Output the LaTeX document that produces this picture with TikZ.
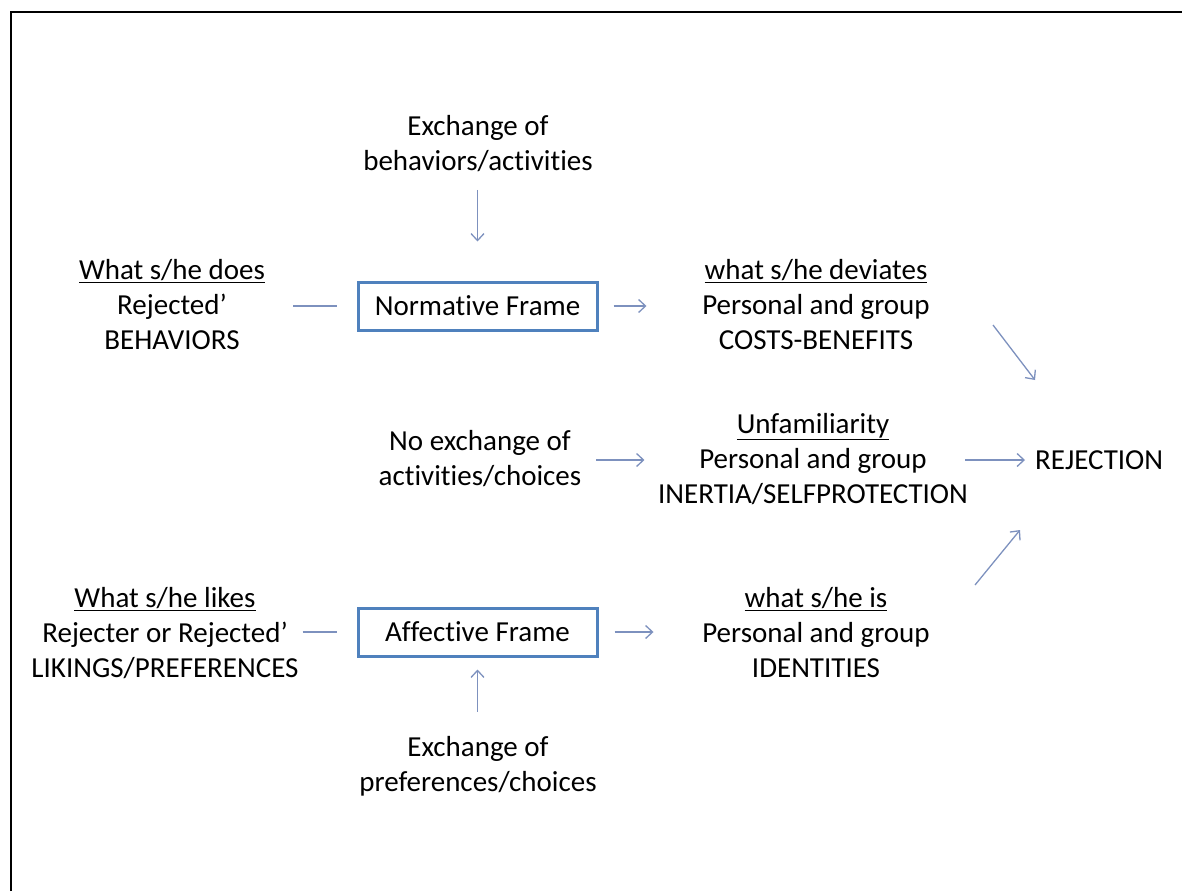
\documentclass[tikz,border=0pt]{standalone}
\usepackage{fontspec}
\setmainfont{Carlito}[Ligatures=NoCommon]
\usetikzlibrary{arrows.meta}
\definecolor{framblue}{RGB}{79,129,189}
\definecolor{arrblue}{RGB}{125,145,190}
\tikzset{
  txt/.style={align=center, inner sep=0pt, font=\fontsize{29}{35}\selectfont},
  framebox/.style={draw=framblue, line width=3pt, minimum width=239pt, minimum height=48pt, inner sep=0pt, font=\fontsize{29}{35}\selectfont},
  conn/.style={draw=arrblue, line width=1.3pt},
  arr/.style={conn, -{Straight Barb[length=7pt,width=13pt,line width=1.3pt]}}
}
\begin{document}
\begin{tikzpicture}[x=1pt,y=-1pt]
\useasboundingbox (0,0) rectangle (1182,891);
\draw[line width=2.5pt] (11,891) -- (11,12) -- (1182,12);

\node[txt] (ex1) at (478,143.5) {Exchange of\\behaviors/activities};
\node[txt] (does) at (172,305) {\underline{What s/he does}\\Rejected’\\BEHAVIORS};
\node[framebox] (norm) at (477.5,306) {Normative Frame};
\node[txt] (dev) at (816,305) {\underline{what s/he deviates}\\Personal and group\\COSTS-BENEFITS};
\node[txt] (noex) at (480,459) {No exchange of\\activities/choices};
\node[txt] (unf) at (813,459) {\underline{Unfamiliarity}\\Personal and group\\INERTIA/SELFPROTECTION};
\node[txt, anchor=west] (rej) at (1035,460) {REJECTION};
\node[txt] (likes) at (165,633) {\underline{What s/he likes}\\Rejecter or Rejected’\\LIKINGS/PREFERENCES};
\node[framebox] (aff) at (477.5,632) {Affective Frame};
\node[txt] (is) at (816,633) {\underline{what s/he is}\\Personal and group\\IDENTITIES};
\node[txt] (ex2) at (478,766) {Exchange of\\preferences/choices};

\coordinate (d1) at (993,325);
\coordinate (d2) at (1035,380);
\coordinate (u1) at (975,585);
\coordinate (u2) at (1020,530);

\draw[arr] ([yshift=-18pt]ex1.south -| norm.north) -- ([yshift=39pt]norm.north);
\draw[conn] ([xshift=28pt]does.east |- norm.west) -- ([xshift=-20pt]norm.west);
\draw[arr] ([xshift=15pt]norm.east) -- ([xshift=48pt]norm.east);
\draw[arr] (d1) -- (d2);
\draw[arr] ([xshift=15pt]noex.east |- rej.west) -- ([xshift=63pt]noex.east |- rej.west);
\draw[arr] ([xshift=-70pt]rej.west) -- ([xshift=-10pt]rej.west);
\draw[arr] (u1) -- (u2);
\draw[conn] ([xshift=4pt]likes.east |- aff.west) -- ([xshift=-20pt]aff.west);
\draw[arr] ([xshift=16pt]aff.east) -- ([xshift=55pt]aff.east);
\draw[arr] ([yshift=-54pt]aff.south) -- ([yshift=-12pt]aff.south);
\end{tikzpicture}
\end{document}
